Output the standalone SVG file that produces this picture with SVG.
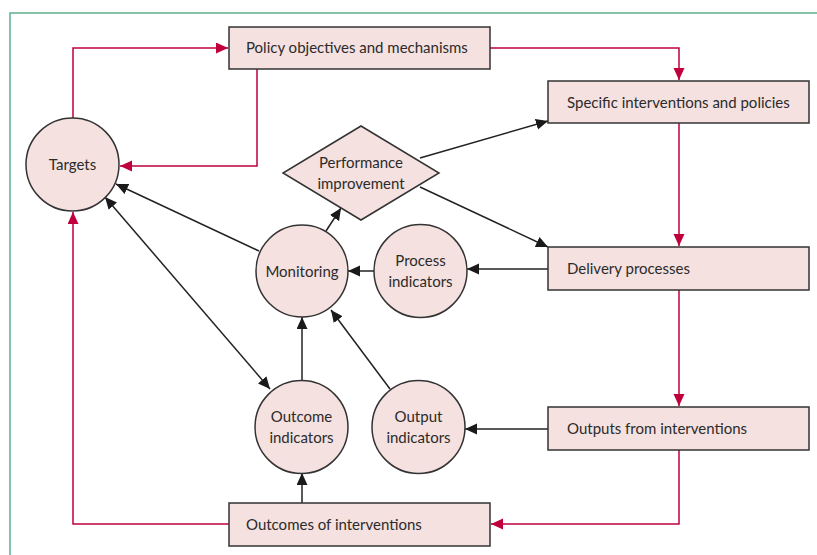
<svg xmlns="http://www.w3.org/2000/svg" width="817" height="555" viewBox="0 0 817 555">
<style>
.box{fill:#f5e1df;stroke:#333;stroke-width:1.5}
.lbl{font-family:Lato,"Liberation Sans",sans-serif;font-size:15px;fill:#2b2b2b}
.red{fill:none;stroke:#c0003c;stroke-width:1.5}
.blk{fill:none;stroke:#222;stroke-width:1.5}
</style>
<defs>
<marker id="ar" markerUnits="userSpaceOnUse" markerWidth="13" markerHeight="12" refX="12" refY="5.5" orient="auto"><path d="M0,0 L12,5.5 L0,11 z" fill="#c0003c"/></marker>
<marker id="ab" markerUnits="userSpaceOnUse" markerWidth="13" markerHeight="12" refX="12" refY="5.5" orient="auto-start-reverse"><path d="M0,0 L12,5.5 L0,11 z" fill="#1a1a1a"/></marker>
</defs>
<rect width="817" height="555" fill="#fff"/>
<path d="M10,555 V13 H817" fill="none" stroke="#5fae8a" stroke-width="1.5"/>
<g id="connectors">
<path class="red" d="M73,118 V48 H228" marker-end="url(#ar)"/>
<path class="red" d="M257,69 V166 H120" marker-end="url(#ar)"/>
<path class="red" d="M490,48 H679 V80" marker-end="url(#ar)"/>
<path class="red" d="M679,123 V246" marker-end="url(#ar)"/>
<path class="red" d="M679,290 V406" marker-end="url(#ar)"/>
<path class="red" d="M679,450 V524 H491" marker-end="url(#ar)"/>
<path class="red" d="M229,524 H73 V212" marker-end="url(#ar)"/>
<path class="blk" d="M420,158 L548,121" marker-end="url(#ab)"/>
<path class="blk" d="M420,187 L548,247" marker-end="url(#ab)"/>
<path class="blk" d="M326,231 L341,208" marker-end="url(#ab)"/>
<path class="blk" d="M374,271 L348,271" marker-end="url(#ab)"/>
<path class="blk" d="M548,269 L467,269" marker-end="url(#ab)"/>
<path class="blk" d="M259,251 L116,184" marker-end="url(#ab)"/>
<path class="blk" d="M105,197 L270,389" marker-start="url(#ab)" marker-end="url(#ab)"/>
<path class="blk" d="M302,381 V317" marker-end="url(#ab)"/>
<path class="blk" d="M390,389 L331,310" marker-end="url(#ab)"/>
<path class="blk" d="M548,429 L465,429" marker-end="url(#ab)"/>
<path class="blk" d="M302,503 V473" marker-end="url(#ab)"/>
</g>
<g id="policy"><rect class="box" x="229" y="27" width="261" height="42"/><text class="lbl" x="246" y="53">Policy objectives and mechanisms</text></g>
<g id="specific"><rect class="box" x="548" y="81" width="261" height="42"/><text class="lbl" x="567" y="108">Specific interventions and policies</text></g>
<g id="delivery"><rect class="box" x="548" y="247" width="261" height="43"/><text class="lbl" x="567" y="274">Delivery processes</text></g>
<g id="outputs"><rect class="box" x="548" y="407" width="261" height="43"/><text class="lbl" x="567" y="434">Outputs from interventions</text></g>
<g id="outcomes"><rect class="box" x="229" y="503" width="261" height="43"/><text class="lbl" x="246" y="530">Outcomes of interventions</text></g>
<g id="targets"><circle class="box" cx="72.5" cy="164.5" r="46.5"/><text class="lbl" x="72.5" y="170" text-anchor="middle">Targets</text></g>
<g id="performance"><polygon class="box" points="361,126 439,173 361,220 283,173"/><text class="lbl" x="361" y="168" text-anchor="middle">Performance</text><text class="lbl" x="361" y="189" text-anchor="middle">improvement</text></g>
<g id="monitoring"><circle class="box" cx="302" cy="271" r="46"/><text class="lbl" x="302" y="277" text-anchor="middle">Monitoring</text></g>
<g id="process"><circle class="box" cx="420.5" cy="271" r="46.5"/><text class="lbl" x="420.5" y="266" text-anchor="middle">Process</text><text class="lbl" x="420.5" y="287" text-anchor="middle">indicators</text></g>
<g id="outcome-ind"><circle class="box" cx="301.5" cy="427" r="46.5"/><text class="lbl" x="301.5" y="422" text-anchor="middle">Outcome</text><text class="lbl" x="301.5" y="443" text-anchor="middle">indicators</text></g>
<g id="output-ind"><circle class="box" cx="418.5" cy="427" r="46.5"/><text class="lbl" x="418.5" y="422" text-anchor="middle">Output</text><text class="lbl" x="418.5" y="443" text-anchor="middle">indicators</text></g>
</svg>
